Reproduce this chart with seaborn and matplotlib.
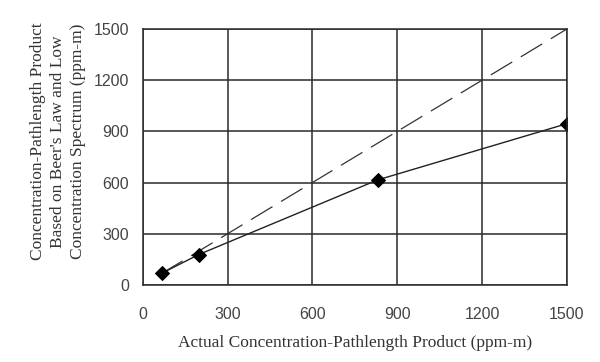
import matplotlib
matplotlib.use("Agg")
import matplotlib.pyplot as plt
import seaborn as sns
import pandas as pd

# measured vs actual concentration-pathlength product (ppm-m)
actual = [67, 198, 830, 1500]
measured = [68, 178, 615, 945]

# 1:1 reference line
ideal_x = [65, 1500]
ideal_y = [65, 1500]

ticks = [0, 300, 600, 900, 1200, 1500]

sns.set_style("white")
plt.rcParams['font.family'] = ['Liberation Serif', 'DejaVu Serif']

fig = plt.figure(figsize=(6, 3.62), dpi=100)
ax = fig.add_axes([0.238, 0.213, 0.707, 0.707])

df = pd.DataFrame({'actual': actual, 'measured': measured})
ref = pd.DataFrame({'x': ideal_x, 'y': ideal_y})

sns.lineplot(data=ref, x='x', y='y', ax=ax, color='#333333', lw=0.9,
             linestyle=(0, (20, 8)))
sns.lineplot(data=df, x='actual', y='measured', ax=ax, color='#222222', lw=1.0,
             marker='D', markersize=7.5, markerfacecolor='black',
             markeredgecolor='black')

ax.set_xlim(0, 1500)
ax.set_ylim(0, 1500)
ax.set_xticks(ticks)
ax.set_yticks(ticks)
ax.grid(True, color='#2a2a2a', lw=1.1)
for s in ax.spines.values():
    s.set_color('#2a2a2a')
    s.set_linewidth(1.1)
ax.tick_params(axis='both', direction='out', length=4, width=1.0, color='#2a2a2a',
               labelsize=11.5, labelcolor='#444444', pad=6)
ax.tick_params(axis='x', pad=12)
for lab in ax.get_xticklabels() + ax.get_yticklabels():
    lab.set_family(['Liberation Sans', 'DejaVu Sans'])

ax.set_xlabel('Actual Concentration-Pathlength Product (ppm-m)', fontsize=12.5,
              color='#333333')
ax.set_ylabel("Concentration-Pathlength Product\nBased on Beer's Law and Low\nConcentration Spectrum (ppm-m)",
              fontsize=12.5, color='#333333', linespacing=1.3)
ax.xaxis.set_label_coords(0.5, -0.195)
ax.yaxis.set_label_coords(-0.135, 0.56)

fig.savefig('out.png', dpi=100)
